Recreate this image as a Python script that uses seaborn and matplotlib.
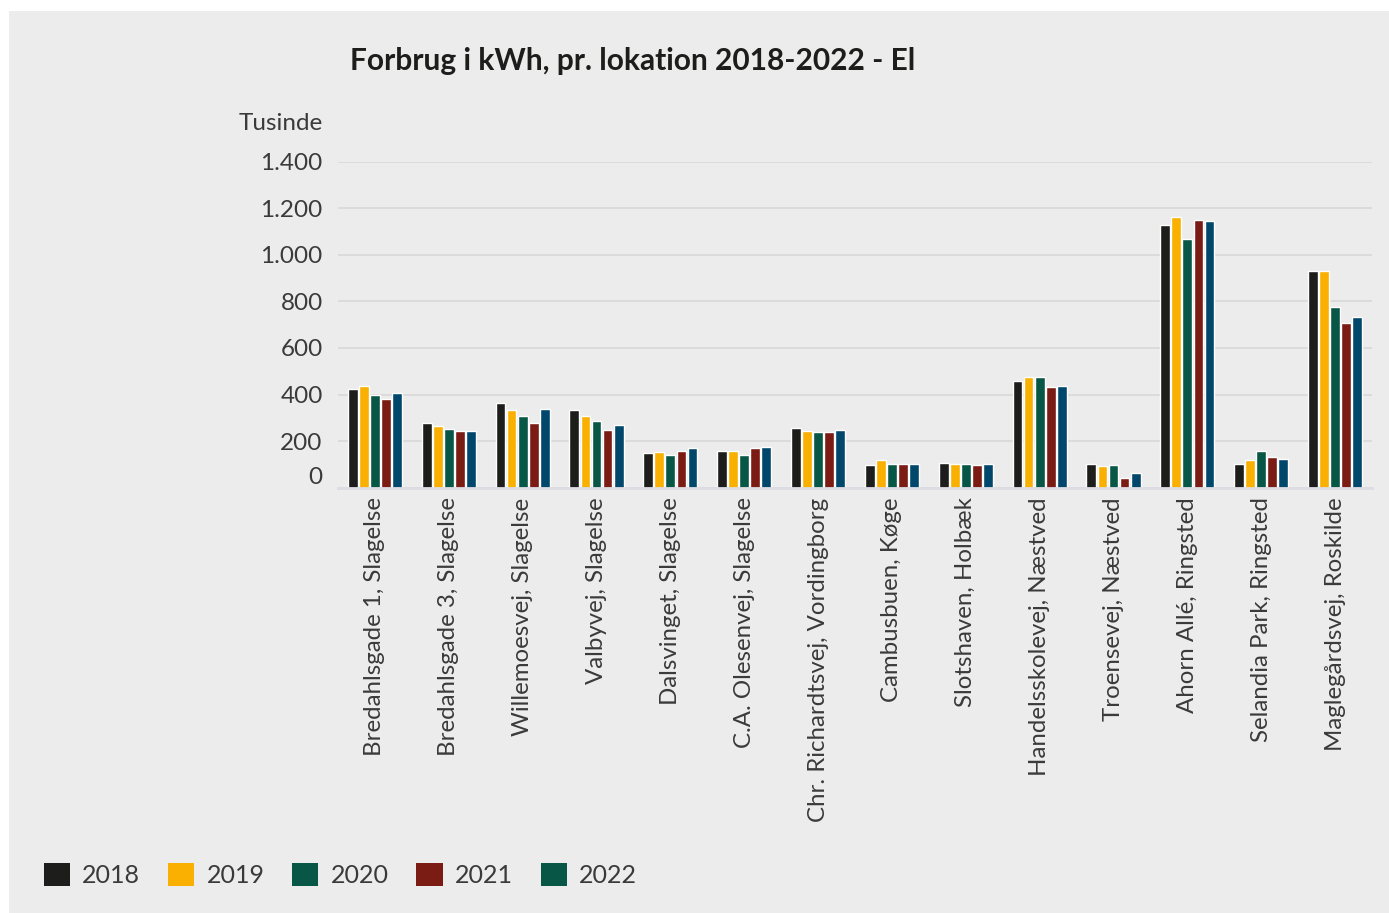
import matplotlib
matplotlib.use("Agg")
import matplotlib.pyplot as plt
import matplotlib.patches as mpatches
import matplotlib.transforms as mtrans
import seaborn as sns
import pandas as pd

locations = [
    "Bredahlsgade 1, Slagelse", "Bredahlsgade 3, Slagelse", "Willemoesvej, Slagelse",
    "Valbyvej, Slagelse", "Dalsvinget, Slagelse", "C.A. Olesenvej, Slagelse",
    "Chr. Richardtsvej, Vordingborg", "Cambusbuen, Køge", "Slotshaven, Holbæk",
    "Handelsskolevej, Næstved", "Troensevej, Næstved", "Ahorn Allé, Ringsted",
    "Selandia Park, Ringsted", "Maglegårdsvej, Roskilde",
]
years = ["2018", "2019", "2020", "2021", "2022"]
v2018 = [425, 279, 365, 335, 150, 158, 257, 98, 106, 460, 102, 1128, 102, 930]
v2019 = [438, 266, 335, 309, 154, 158, 244, 119, 102, 477, 94, 1162, 119, 930]
v2020 = [400, 253, 309, 287, 141, 141, 240, 102, 102, 477, 98, 1067, 158, 778]
v2021 = [382, 244, 279, 249, 158, 171, 240, 102, 98, 434, 42, 1149, 132, 709]
v2022 = [408, 244, 339, 270, 171, 175, 249, 102, 102, 438, 63, 1145, 124, 731]
yticks = [0, 200, 400, 600, 800, 1000, 1200, 1400]
ytick_labels = ["0", "200", "400", "600", "800", "1.000", "1.200", "1.400"]

bar_colors = ["#1d1d1b", "#f9b000", "#085646", "#7a1b14", "#00476b"]
legend_colors = ["#1d1d1b", "#f9b000", "#085646", "#7a1b14", "#085646"]

rows = []
for yr, vals in zip(years, [v2018, v2019, v2020, v2021, v2022]):
    for loc, v in zip(locations, vals):
        rows.append({"loc": loc, "year": yr, "value": v})
df = pd.DataFrame(rows)

sns.set_theme(style="white")
plt.rcParams["font.family"] = ["Lato", "DejaVu Sans"]
BG = "#ececec"
TXT = "#3a3a3a"

fig = plt.figure(figsize=(13.89, 9.13), dpi=100)
fig.patch.set_facecolor("white")
fig.patches.append(mpatches.Rectangle((9 / 1389, 0), 1 - 9 / 1389, 1 - 11 / 913,
                                      transform=fig.transFigure, facecolor=BG,
                                      edgecolor="none", zorder=-10))

L, R, T, B = 338, 1372, 161.7, 487.7
ax = fig.add_axes([L / 1389, 1 - B / 913, (R - L) / 1389, (B - T) / 913])
ax.set_facecolor(BG)

sns.barplot(data=df, x="loc", y="value", hue="year", order=locations, hue_order=years,
            palette=bar_colors, width=0.75, gap=0.12, ax=ax, legend=False,
            saturation=1, errorbar=None)

ax.set_ylim(0, 1400)
ax.set_xlim(-0.5, len(locations) - 0.5)
ax.set_yticks(yticks)
ax.set_yticklabels(ytick_labels)
ax.yaxis.grid(True, color="#d8d8d8", linewidth=1.2)
ax.set_axisbelow(True)
for s in ["top", "right", "left"]:
    ax.spines[s].set_visible(False)
ax.spines["bottom"].set_color("#dcdce2")
ax.spines["bottom"].set_linewidth(2)
ax.tick_params(axis="y", length=0, pad=11, labelsize=17.5, labelcolor=TXT)
ax.tick_params(axis="x", length=0, pad=7, labelsize=17.3, labelcolor=TXT)
ylabs = ax.get_yticklabels()
ylabs[0].set_transform(ylabs[0].get_transform() + mtrans.ScaledTranslation(0, 12 / 100, fig.dpi_scale_trans))
ax.set_xticks(range(len(locations)))
ax.set_xticklabels(locations, rotation=90, ha="center", va="top")
ax.set_xlabel("")
ax.set_ylabel("")

fig.text(323 / 1389, 1 - 124 / 913, "Tusinde", ha="right", va="center",
         fontsize=17.5, color=TXT)
fig.text(350 / 1389, 1 - 61 / 913, "Forbrug i kWh, pr. lokation 2018-2022 - El",
         ha="left", va="center", fontsize=21.5, fontweight="bold", color="#1d1d1b")

handles = [mpatches.Patch(facecolor=c, edgecolor="none", label=y)
           for c, y in zip(legend_colors, years)]
leg = fig.legend(handles=handles, loc="center left", bbox_to_anchor=(21 / 1389, 1 - 875 / 913),
                 ncol=5, frameon=False, fontsize=18, handlelength=1.05, handleheight=1.05,
                 handletextpad=0.5, columnspacing=1.1)
for t in leg.get_texts():
    t.set_color(TXT)

fig.savefig("out.png", dpi=100, facecolor=fig.get_facecolor())
